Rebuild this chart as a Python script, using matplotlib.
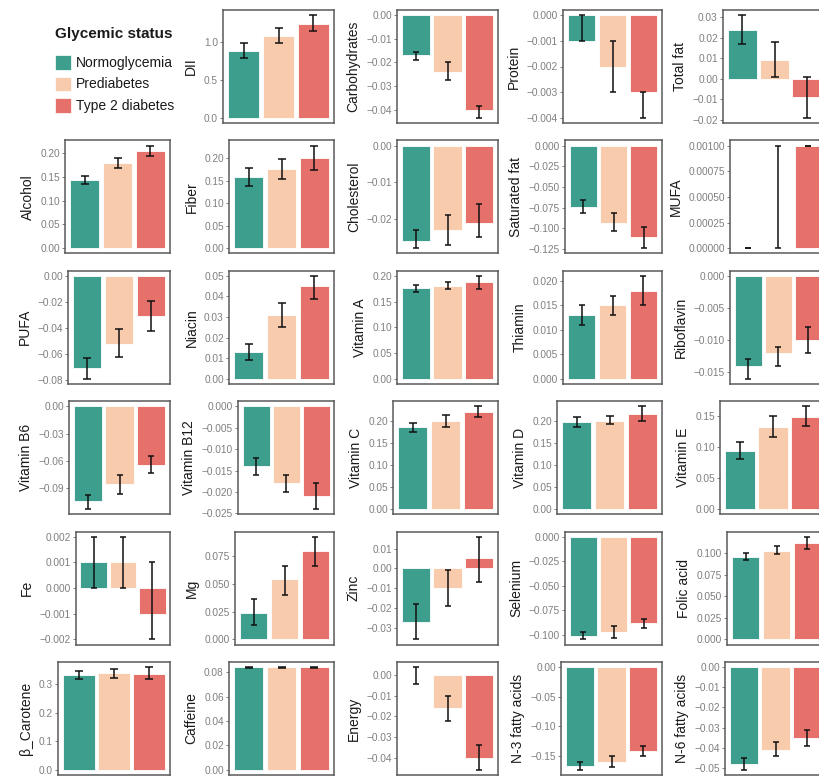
import matplotlib
matplotlib.use("Agg")
import matplotlib.pyplot as plt
from matplotlib.patches import Rectangle

plt.rcParams['font.family'] = ['Liberation Sans', 'DejaVu Sans']

# Groups and colours
GROUPS = ['Normoglycemia', 'Prediabetes', 'Type 2 diabetes']
COLORS = ['#3d9e8d', '#f8cbad', '#e6716b']

NUTRIENTS = [
    'DII', 'Carbohydrates', 'Protein', 'Total fat',
    'Alcohol', 'Fiber', 'Cholesterol', 'Saturated fat', 'MUFA',
    'PUFA', 'Niacin', 'Vitamin A', 'Thiamin', 'Riboflavin',
    'Vitamin B6', 'Vitamin B12', 'Vitamin C', 'Vitamin D', 'Vitamin E',
    'Fe', 'Mg', 'Zinc', 'Selenium', 'Folic acid',
    'β_Carotene', 'Caffeine', 'Energy', 'N-3 fatty acids', 'N-6 fatty acids',
]

# Means and 95% CI bounds, one value per nutrient (same order as NUTRIENTS)
NORMO_MEAN = [0.88, -0.017, -0.001, 0.024,
              0.144, 0.159, -0.026, -0.074, 0.0,
              -0.071, 0.013, 0.176, 0.013, -0.014,
              -0.104, -0.014, 0.185, 0.196, 0.093,
              0.001, 0.024, -0.027, -0.101, 0.096,
              0.332, 0.084, 0.000, -0.167, -0.048]
NORMO_LO = [0.79, -0.019, -0.001, 0.017,
            0.135, 0.139, -0.028, -0.082, 0.0,
            -0.079, 0.009, 0.169, 0.011, -0.016,
            -0.113, -0.016, 0.174, 0.186, 0.080,
            0.000, 0.013, -0.036, -0.105, 0.092,
            0.321, 0.0838, -0.004, -0.174, -0.051]
NORMO_HI = [0.98, -0.0155, 0.000, 0.031,
            0.151, 0.179, -0.023, -0.066, 0.0,
            -0.063, 0.017, 0.183, 0.015, -0.013,
            -0.097, -0.012, 0.194, 0.207, 0.108,
            0.002, 0.036, -0.018, -0.097, 0.100,
            0.346, 0.0842, 0.004, -0.161, -0.045]

PRE_MEAN = [1.08, -0.024, -0.002, 0.009,
            0.179, 0.176, -0.023, -0.093, 0.0,
            -0.052, 0.031, 0.181, 0.015, -0.012,
            -0.085, -0.018, 0.200, 0.200, 0.132,
            0.001, 0.054, -0.010, -0.097, 0.103,
            0.339, 0.084, -0.016, -0.160, -0.041]
PRE_LO = [0.98, -0.0275, -0.003, 0.001,
          0.169, 0.153, -0.027, -0.103, 0.0,
          -0.062, 0.025, 0.175, 0.013, -0.014,
          -0.096, -0.020, 0.186, 0.192, 0.116,
          0.000, 0.040, -0.019, -0.103, 0.099,
          0.324, 0.0838, -0.022, -0.169, -0.044]
PRE_HI = [1.18, -0.020, -0.001, 0.018,
          0.189, 0.199, -0.019, -0.082, 0.001,
          -0.041, 0.037, 0.188, 0.017, -0.011,
          -0.075, -0.016, 0.213, 0.210, 0.150,
          0.002, 0.066, -0.001, -0.091, 0.108,
          0.355, 0.0842, -0.010, -0.150, -0.037]

T2D_MEAN = [1.24, -0.040, -0.003, -0.009,
            0.204, 0.201, -0.021, -0.111, 0.001,
            -0.031, 0.045, 0.188, 0.018, -0.010,
            -0.064, -0.021, 0.220, 0.214, 0.148,
            -0.001, 0.079, 0.005, -0.088, 0.112,
            0.337, 0.084, -0.040, -0.142, -0.035]
T2D_LO = [1.14, -0.0435, -0.004, -0.019,
          0.194, 0.174, -0.025, -0.124, 0.001,
          -0.042, 0.039, 0.175, 0.015, -0.012,
          -0.073, -0.024, 0.209, 0.198, 0.133,
          -0.002, 0.066, -0.007, -0.093, 0.105,
          0.318, 0.0838, -0.046, -0.150, -0.039]
T2D_HI = [1.35, -0.0385, -0.003, 0.001,
          0.216, 0.228, -0.016, -0.098, 0.001,
          -0.019, 0.050, 0.200, 0.021, -0.008,
          -0.055, -0.018, 0.232, 0.232, 0.165,
          0.001, 0.092, 0.016, -0.084, 0.119,
          0.361, 0.0842, -0.034, -0.134, -0.031]

# y tick labels per panel
TICK_LABELS = [
    ['0.0', '0.5', '1.0'],
    ['0.00', '-0.01', '-0.02', '-0.03', '-0.04'],
    ['0.000', '-0.001', '-0.002', '-0.003', '-0.004'],
    ['0.03', '0.02', '0.01', '0.00', '-0.01', '-0.02'],
    ['0.00', '0.05', '0.10', '0.15', '0.20'],
    ['0.00', '0.05', '0.10', '0.15', '0.20'],
    ['0.00', '-0.01', '-0.02'],
    ['0.000', '-0.025', '-0.050', '-0.075', '-0.100', '-0.125'],
    ['0.00000', '0.00025', '0.00050', '0.00075', '0.00100'],
    ['0.00', '-0.02', '-0.04', '-0.06', '-0.08'],
    ['0.00', '0.01', '0.02', '0.03', '0.04', '0.05'],
    ['0.00', '0.05', '0.10', '0.15', '0.20'],
    ['0.000', '0.005', '0.010', '0.015', '0.020'],
    ['0.000', '-0.005', '-0.010', '-0.015'],
    ['0.00', '-0.03', '-0.06', '-0.09'],
    ['0.000', '-0.005', '-0.010', '-0.015', '-0.020', '-0.025'],
    ['0.00', '0.05', '0.10', '0.15', '0.20'],
    ['0.00', '0.05', '0.10', '0.15', '0.20'],
    ['0.00', '0.05', '0.10', '0.15'],
    ['0.002', '0.001', '0.000', '-0.001', '-0.002'],
    ['0.000', '0.025', '0.050', '0.075'],
    ['0.01', '0.00', '-0.01', '-0.02', '-0.03'],
    ['0.000', '-0.025', '-0.050', '-0.075', '-0.100'],
    ['0.000', '0.025', '0.050', '0.075', '0.100'],
    ['0.0', '0.1', '0.2', '0.3'],
    ['0.00', '0.02', '0.04', '0.06', '0.08'],
    ['0.00', '-0.01', '-0.02', '-0.03', '-0.04'],
    ['0.00', '-0.05', '-0.10', '-0.15'],
    ['0.00', '-0.01', '-0.02', '-0.03', '-0.04', '-0.05'],
]

# Layout (pixels): panel left edges; right edges follow a 164 px column pitch
LEFT_PX = [223, 397, 563, 723,
           65, 229, 397, 565, 730,
           68, 229, 397, 563, 730,
           69, 238, 393, 557, 720,
           76, 235, 397, 565, 727,
           58, 229, 397, 561, 725]
W, H = 819, 776
COL_RIGHT0, COL_PITCH = 170, 164
ROW_TOP0, ROW_PITCH, PANEL_H = 10, 130.4, 113

fig = plt.figure(figsize=(W / 100, H / 100), dpi=100, facecolor='white')

# Legend cell
lax = fig.add_axes([0, 1 - 130 / H, 170 / W, 130 / H])
lax.set_xlim(0, 170)
lax.set_ylim(130, 0)
lax.axis('off')
lax.text(55, 34, 'Glycemic status', fontsize=11, fontweight='bold',
         va='center', ha='left', color='#1a1a1a')
for k, (lab, col) in enumerate(zip(GROUPS, COLORS)):
    y0 = 55 + k * 21.6
    lax.add_patch(Rectangle((55, y0), 15.5, 14.5, facecolor=col, edgecolor='white', lw=0.5))
    lax.text(75.5, y0 + 7.5, lab, fontsize=10, va='center', ha='left', color='#1a1a1a')

means = [NORMO_MEAN, PRE_MEAN, T2D_MEAN]
lows = [NORMO_LO, PRE_LO, T2D_LO]
highs = [NORMO_HI, PRE_HI, T2D_HI]

for i, name in enumerate(NUTRIENTS):
    row, col = divmod(i + 1, 5)
    left = LEFT_PX[i]
    right = COL_RIGHT0 + COL_PITCH * col
    top = ROW_TOP0 + ROW_PITCH * row
    ax = fig.add_axes([left / W, 1 - (top + PANEL_H) / H, (right - left) / W, PANEL_H / H])

    m = [means[g][i] for g in range(3)]
    lo = [lows[g][i] for g in range(3)]
    hi = [highs[g][i] for g in range(3)]
    x = [1, 2, 3]
    ax.bar(x, m, width=0.9, color=COLORS, edgecolor='white', linewidth=0.6, zorder=1)

    px_per_unit = (right - left) / 3.2
    cap = 0.11 * px_per_unit * 0.72
    ax.errorbar(x, m, yerr=[[a - b for a, b in zip(m, lo)], [b - a for a, b in zip(m, hi)]],
                fmt='none', ecolor='#111111', elinewidth=1.1, capsize=cap,
                capthick=1.1, zorder=3)

    ymin = min(0, min(lo))
    ymax = max(0, max(hi))
    pad = 0.05 * (ymax - ymin)
    ax.set_ylim(ymin - pad, ymax + pad)
    ax.set_xlim(0.4, 3.6)

    labels = TICK_LABELS[i]
    ax.set_yticks([float(t) for t in labels])
    ax.set_yticklabels([t.replace('-', '\u2212') for t in labels])
    ax.set_xticks([])

    ax.set_ylabel(name, fontsize=10, color='#1a1a1a', labelpad=4)
    ax.tick_params(axis='y', direction='out', length=2.2, width=0.7,
                   color='#7f7f7f', labelcolor='#7f7f7f', labelsize=7.3, pad=1.5)
    for sp in ax.spines.values():
        sp.set_color('#5a5a5a')
        sp.set_linewidth(1.1)

fig.savefig('out.png', dpi=100, facecolor='white')
